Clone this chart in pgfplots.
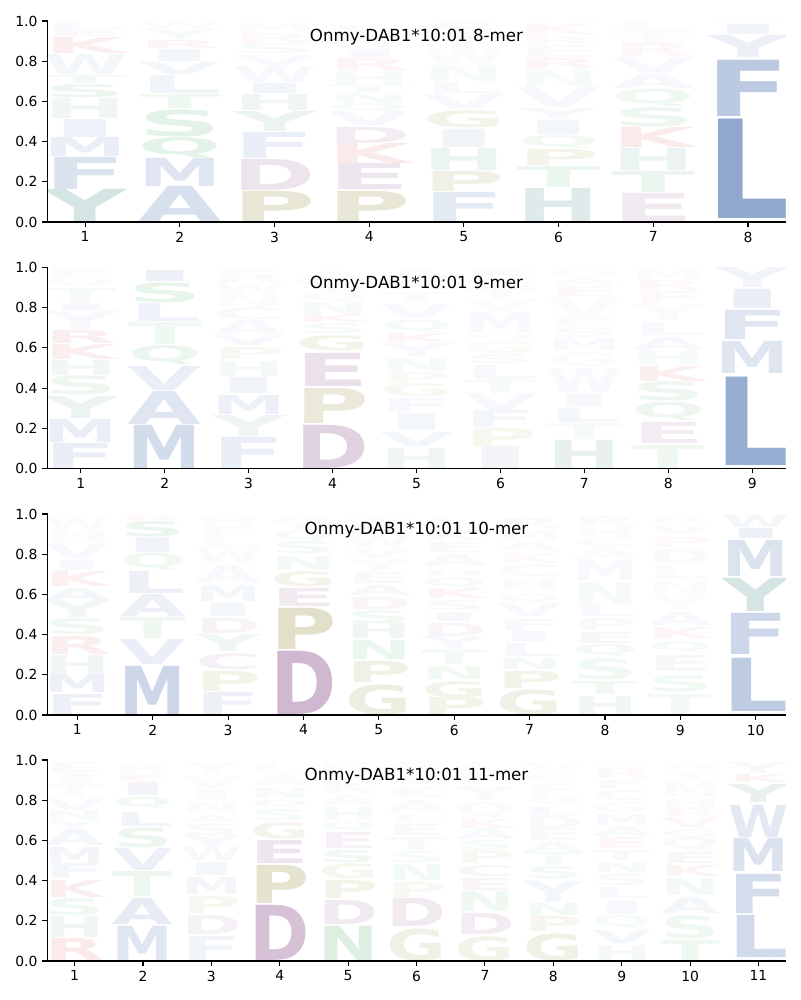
\documentclass[border=0pt]{standalone}
\usepackage{fontspec}
\setmainfont{DejaVu Sans}
\newfontfamily\logofont{DejaVu Sans}
\usepackage{graphicx}
\usepackage{pgfplots}
\usepackage{pgfplotstable}
\pgfplotsset{compat=1.18}
\definecolor{cB}{HTML}{4C72B0}
\definecolor{cT}{HTML}{3F8A82}
\definecolor{cG}{HTML}{3AA852}
\definecolor{cO}{HTML}{8A8530}
\definecolor{cP}{HTML}{894D89}
\definecolor{cR}{HTML}{D03030}
\def\logoparse#1:#2:#3\relax{\textcolor{#2!#3!white}{\logofont\bfseries #1}}

% x = position, y = bottom, h = height, m = letter:colour:strength(%)
\pgfplotstableread{
x y h m
1 0.00 0.16 Y:cT:22
1 0.16 0.16 F:cB:20
1 0.325 0.095 M:cB:12
1 0.42 0.09 I:cB:9
1 0.515 0.10 H:cT:8
1 0.62 0.065 S:cG:10
1 0.69 0.04 T:cG:6
1 0.735 0.10 W:cB:6
1 0.84 0.08 K:cR:8
1 0.925 0.035 E:cP:4
1 0.962 0.035 L:cB:4
2 0.00 0.175 A:cB:22
2 0.178 0.14 M:cB:18
2 0.32 0.10 Q:cG:14
2 0.425 0.135 S:cG:14
2 0.565 0.07 T:cG:8
2 0.64 0.09 L:cB:8
2 0.735 0.06 V:cB:6
2 0.80 0.06 I:cB:6
2 0.865 0.04 R:cR:5
2 0.91 0.05 Y:cT:4
2 0.965 0.03 W:cG:3
3 0.00 0.15 P:cO:20
3 0.155 0.155 D:cP:15
3 0.315 0.13 F:cB:12
3 0.45 0.10 Y:cT:10
3 0.555 0.08 H:cT:8
3 0.64 0.05 I:cB:8
3 0.695 0.08 W:cB:5
3 0.78 0.05 V:cB:4
3 0.835 0.05 S:cG:4
3 0.89 0.05 R:cR:3
3 0.945 0.045 M:cB:3
4 0.00 0.15 P:cO:20
4 0.16 0.13 E:cP:14
4 0.29 0.10 K:cR:10
4 0.39 0.08 D:cP:10
4 0.48 0.07 V:cB:5
4 0.55 0.04 Q:cG:5
4 0.59 0.05 N:cG:5
4 0.645 0.035 T:cG:4
4 0.68 0.07 H:cT:4
4 0.755 0.06 R:cR:5
4 0.82 0.04 I:cB:4
4 0.865 0.05 S:cG:3
4 0.92 0.06 L:cB:3
5 0.00 0.145 F:cB:15
5 0.15 0.10 P:cO:12
5 0.255 0.11 H:cT:10
5 0.37 0.09 I:cB:8
5 0.47 0.085 G:cO:10
5 0.56 0.075 V:cB:5
5 0.64 0.055 L:cB:4
5 0.70 0.08 N:cG:4
5 0.785 0.075 W:cB:3
5 0.865 0.06 T:cG:3
5 0.93 0.06 S:cG:3
6 0.00 0.165 H:cT:17
6 0.17 0.105 T:cG:10
6 0.28 0.08 P:cO:10
6 0.365 0.065 Q:cG:7
6 0.435 0.07 I:cB:6
6 0.51 0.055 Y:cB:5
6 0.57 0.10 V:cB:5
6 0.675 0.085 N:cG:4
6 0.765 0.05 R:cR:5
6 0.82 0.06 E:cP:3
6 0.885 0.04 R:cR:3
6 0.93 0.06 K:cR:3
7 0.00 0.14 E:cP:12
7 0.145 0.105 T:cG:10
7 0.255 0.11 H:cT:10
7 0.37 0.10 K:cR:10
7 0.475 0.095 S:cG:9
7 0.575 0.085 Q:cG:8
7 0.665 0.07 A:cB:5
7 0.74 0.08 V:cB:4
7 0.825 0.07 R:cR:4
7 0.90 0.05 T:cG:3
7 0.955 0.04 L:cB:3
8 0.00 0.01 W:cB:5
8 0.015 0.495 L:cB:62
8 0.525 0.28 F:cB:38
8 0.82 0.11 Y:cB:10
8 0.935 0.05 I:cB:8
8 0.99 0.01 V:cB:4
}\tabA

\pgfplotstableread{
x y h m
1 0.00 0.125 F:cB:12
1 0.128 0.115 M:cB:12
1 0.25 0.11 Y:cT:10
1 0.365 0.095 S:cG:9
1 0.465 0.075 H:cT:7
1 0.54 0.075 K:cR:8
1 0.62 0.065 R:cR:8
1 0.69 0.09 Y:cB:5
1 0.785 0.035 I:cB:5
1 0.825 0.07 T:cG:4
1 0.90 0.05 Q:cG:3
1 0.955 0.04 E:cR:3
2 0.00 0.215 M:cB:25
2 0.22 0.165 A:cB:18
2 0.39 0.12 V:cB:12
2 0.515 0.095 Q:cG:10
2 0.615 0.11 T:cG:8
2 0.73 0.09 L:cB:9
2 0.825 0.10 S:cG:12
2 0.93 0.055 I:cB:10
3 0.00 0.155 F:cB:12
3 0.16 0.105 Y:cT:9
3 0.27 0.095 M:cB:10
3 0.375 0.08 I:cB:8
3 0.46 0.075 H:cT:6
3 0.54 0.06 P:cO:6
3 0.61 0.05 V:cB:5
3 0.665 0.07 A:cB:4
3 0.74 0.06 C:cP:4
3 0.805 0.06 N:cG:3
3 0.87 0.05 W:cB:3
3 0.925 0.04 R:cR:3
3 0.965 0.03 F:cB:3
4 0.00 0.215 D:cP:25
4 0.225 0.175 P:cO:18
4 0.41 0.165 E:cP:17
4 0.585 0.075 G:cO:10
4 0.67 0.05 S:cG:5
4 0.725 0.04 K:cR:5
4 0.765 0.06 N:cG:4
4 0.83 0.04 Q:cG:3
4 0.875 0.05 T:cG:3
4 0.93 0.05 A:cB:3
5 0.00 0.10 H:cT:8
5 0.11 0.07 V:cB:6
5 0.19 0.085 I:cB:6
5 0.28 0.07 F:cB:5
5 0.355 0.065 G:cO:6
5 0.425 0.055 P:cO:5
5 0.485 0.065 N:cG:5
5 0.555 0.065 Y:cB:4
5 0.625 0.045 K:cR:5
5 0.675 0.06 Q:cG:4
5 0.745 0.07 V:cB:4
5 0.825 0.05 T:cG:3
5 0.885 0.05 R:cR:3
5 0.945 0.045 A:cB:3
6 0.00 0.11 I:cB:7
6 0.11 0.09 P:cO:7
6 0.205 0.085 F:cB:6
6 0.29 0.085 V:cB:5
6 0.38 0.06 T:cG:4
6 0.445 0.07 L:cB:5
6 0.52 0.045 S:cG:4
6 0.57 0.06 G:cO:4
6 0.635 0.035 Q:cO:3
6 0.675 0.10 M:cB:4
6 0.78 0.06 V:cG:3
6 0.845 0.05 T:cG:3
6 0.90 0.05 L:cB:3
6 0.955 0.035 K:cR:3
7 0.00 0.14 H:cT:12
7 0.145 0.08 T:cG:5
7 0.23 0.07 L:cB:6
7 0.305 0.07 I:cB:5
7 0.38 0.12 W:cB:4
7 0.505 0.07 G:cO:3
7 0.585 0.06 M:cB:4
7 0.65 0.05 S:cG:3
7 0.705 0.04 F:cB:3
7 0.75 0.10 V:cB:3
7 0.855 0.05 E:cR:3
7 0.91 0.04 A:cB:3
7 0.955 0.035 G:cO:2
8 0.00 0.115 T:cG:8
8 0.125 0.105 E:cP:10
8 0.24 0.09 Q:cG:9
8 0.335 0.095 S:cG:9
8 0.435 0.075 K:cR:8
8 0.515 0.065 H:cT:5
8 0.585 0.065 A:cB:5
8 0.66 0.065 L:cB:4
8 0.735 0.08 Y:cG:3
8 0.82 0.06 F:cR:3
8 0.885 0.05 R:cR:3
8 0.94 0.05 M:cB:3
9 0.00 0.01 W:cB:4
9 0.015 0.44 L:cB:58
9 0.475 0.16 M:cB:18
9 0.64 0.145 F:cB:18
9 0.795 0.095 I:cB:12
9 0.90 0.10 Y:cB:8
}\tabB

\pgfplotstableread{
x y h m
1 0.00 0.10 F:cB:10
1 0.11 0.09 M:cB:10
1 0.20 0.095 H:cT:8
1 0.30 0.09 R:cR:8
1 0.40 0.08 S:cG:8
1 0.485 0.085 Y:cT:7
1 0.57 0.06 A:cB:6
1 0.64 0.075 K:cR:7
1 0.72 0.05 I:cB:4
1 0.775 0.08 V:cB:4
1 0.86 0.06 H:cG:3
1 0.925 0.06 W:cB:3
2 0.00 0.24 M:cB:28
2 0.25 0.125 V:cB:12
2 0.38 0.105 T:cG:8
2 0.49 0.11 A:cB:10
2 0.605 0.11 L:cB:10
2 0.72 0.085 Q:cG:8
2 0.81 0.075 I:cB:8
2 0.885 0.075 S:cG:10
2 0.965 0.03 R:cR:3
3 0.00 0.11 F:cB:10
3 0.115 0.10 P:cO:10
3 0.225 0.08 C:cP:8
3 0.315 0.085 Y:cT:7
3 0.405 0.075 D:cP:7
3 0.49 0.065 I:cB:6
3 0.565 0.08 M:cB:6
3 0.655 0.09 A:cB:4
3 0.755 0.075 W:cB:3
3 0.835 0.05 L:cB:3
3 0.89 0.05 F:cB:3
3 0.945 0.045 H:cG:3
4 0.00 0.315 D:cP:40
4 0.325 0.205 P:cO:25
4 0.54 0.09 E:cP:12
4 0.64 0.075 G:cO:10
4 0.72 0.07 N:cG:6
4 0.80 0.06 S:cG:6
4 0.865 0.05 Q:cG:4
4 0.92 0.04 T:cG:3
4 0.965 0.03 A:cB:2
5 0.00 0.15 G:cO:15
5 0.16 0.105 P:cO:12
5 0.275 0.095 N:cG:10
5 0.38 0.075 H:cT:8
5 0.455 0.065 S:cG:7
5 0.525 0.06 D:cP:6
5 0.595 0.05 A:cB:5
5 0.655 0.055 E:cP:4
5 0.715 0.06 Y:cB:3
5 0.78 0.05 V:cB:3
5 0.835 0.06 W:cB:3
5 0.90 0.05 K:cR:3
5 0.955 0.04 T:cG:2
6 0.00 0.085 P:cO:10
6 0.085 0.08 G:cO:10
6 0.175 0.065 N:cG:7
6 0.25 0.07 T:cG:6
6 0.325 0.065 Y:cB:5
6 0.39 0.065 D:cP:6
6 0.465 0.045 I:cB:5
6 0.52 0.05 S:cG:4
6 0.58 0.05 K:cR:5
6 0.63 0.05 Q:cG:4
6 0.69 0.03 H:cT:3
6 0.74 0.06 A:cB:4
6 0.81 0.05 E:cP:3
6 0.87 0.05 K:cR:3
6 0.93 0.05 L:cB:2
7 0.00 0.125 G:cO:12
7 0.13 0.085 P:cO:10
7 0.225 0.055 N:cG:6
7 0.29 0.065 L:cB:5
7 0.365 0.05 I:cB:5
7 0.42 0.055 F:cB:4
7 0.49 0.065 V:cB:4
7 0.56 0.04 Q:cO:4
7 0.62 0.06 H:cG:3
7 0.69 0.06 C:cP:3
7 0.755 0.05 K:cR:3
7 0.815 0.05 A:cB:3
7 0.87 0.05 M:cB:3
7 0.93 0.05 R:cR:3
8 0.00 0.09 H:cT:8
8 0.10 0.065 T:cG:7
8 0.175 0.105 S:cG:7
8 0.29 0.06 Q:cG:6
8 0.355 0.055 E:cP:5
8 0.42 0.06 P:cO:5
8 0.49 0.055 L:cB:4
8 0.55 0.11 N:cG:4
8 0.67 0.10 M:cB:4
8 0.775 0.06 A:cB:3
8 0.84 0.04 C:cO:3
8 0.885 0.05 H:cB:3
8 0.94 0.05 R:cR:3
9 0.00 0.10 T:cG:6
9 0.115 0.08 S:cG:7
9 0.215 0.08 E:cP:5
9 0.315 0.05 Q:cG:5
9 0.38 0.055 K:cR:5
9 0.445 0.065 A:cB:4
9 0.52 0.075 Y:cB:3
9 0.60 0.065 N:cG:3
9 0.675 0.07 L:cB:3
9 0.755 0.07 D:cP:3
9 0.835 0.05 P:cR:3
9 0.895 0.05 V:cB:3
9 0.955 0.035 R:cR:2
10 0.00 0.01 W:cB:4
10 0.015 0.265 L:cB:36
10 0.30 0.205 F:cB:28
10 0.515 0.165 Y:cT:22
10 0.69 0.18 M:cB:20
10 0.88 0.05 I:cB:10
10 0.935 0.06 W:cB:6
}\tabC

\pgfplotstableread{
x y h m
1 0.00 0.11 R:cR:10
1 0.115 0.105 H:cT:8
1 0.225 0.085 S:cG:8
1 0.315 0.085 K:cR:8
1 0.41 0.075 F:cB:6
1 0.485 0.08 M:cB:7
1 0.575 0.08 A:cB:6
1 0.66 0.035 Y:cB:4
1 0.70 0.05 N:cG:4
1 0.75 0.055 V:cB:4
1 0.815 0.065 T:cG:3
1 0.885 0.05 I:cB:3
1 0.94 0.05 E:cR:3
2 0.00 0.17 M:cB:18
2 0.18 0.13 A:cB:14
2 0.32 0.125 T:cG:9
2 0.45 0.11 V:cB:10
2 0.565 0.10 S:cG:10
2 0.67 0.07 L:cB:8
2 0.76 0.055 Q:cG:7
2 0.825 0.065 I:cB:7
2 0.895 0.035 E:cR:4
2 0.935 0.05 R:cB:3
3 0.00 0.12 F:cB:8
3 0.13 0.095 D:cP:8
3 0.235 0.085 P:cO:7
3 0.33 0.085 M:cB:7
3 0.425 0.065 I:cB:6
3 0.50 0.065 W:cB:5
3 0.565 0.06 Y:cB:4
3 0.625 0.06 S:cG:4
3 0.69 0.035 A:cB:3
3 0.74 0.05 N:cB:3
3 0.80 0.05 I:cB:3
3 0.86 0.06 V:cB:3
3 0.93 0.06 Y:cB:2
4 0.00 0.275 D:cP:35
4 0.285 0.19 P:cO:22
4 0.485 0.115 E:cP:14
4 0.61 0.08 G:cO:9
4 0.70 0.055 S:cG:5
4 0.765 0.035 Q:cG:4
4 0.81 0.05 N:cG:4
4 0.87 0.06 A:cB:3
4 0.935 0.05 L:cB:2
5 0.00 0.17 N:cG:18
5 0.18 0.12 D:cP:12
5 0.31 0.09 P:cO:10
5 0.41 0.075 G:cO:8
5 0.49 0.06 S:cG:8
5 0.56 0.08 E:cP:8
5 0.645 0.045 Q:cG:5
5 0.70 0.065 H:cT:4
5 0.775 0.05 A:cB:3
5 0.835 0.06 K:cB:3
5 0.905 0.05 V:cB:3
5 0.96 0.03 R:cR:2
6 0.00 0.16 G:cO:12
6 0.17 0.14 D:cP:12
6 0.315 0.075 P:cO:6
6 0.40 0.08 N:cG:6
6 0.49 0.055 S:cG:5
6 0.55 0.065 T:cG:4
6 0.625 0.055 E:cP:4
6 0.69 0.04 L:cB:3
6 0.74 0.06 A:cB:3
6 0.81 0.06 K:cB:3
6 0.88 0.05 I:cB:2
6 0.94 0.05 R:cR:2
7 0.00 0.12 G:cO:10
7 0.13 0.105 D:cP:10
7 0.245 0.10 N:cG:8
7 0.35 0.06 E:cP:6
7 0.42 0.055 C:cP:6
7 0.485 0.065 P:cO:6
7 0.555 0.045 S:cG:5
7 0.605 0.055 A:cB:4
7 0.66 0.045 K:cR:4
7 0.71 0.08 Q:cG:3
7 0.80 0.07 Y:cT:3
7 0.88 0.05 F:cB:2
7 0.94 0.05 L:cB:2
8 0.00 0.135 G:cO:12
8 0.145 0.075 P:cO:8
8 0.225 0.06 N:cG:6
8 0.29 0.105 Y:cB:6
8 0.41 0.06 S:cG:6
8 0.475 0.065 T:cG:5
8 0.54 0.05 A:cB:4
8 0.60 0.06 E:cP:4
8 0.66 0.06 D:cP:4
8 0.725 0.04 L:cB:4
8 0.775 0.04 Q:cG:3
8 0.82 0.06 F:cB:3
8 0.885 0.05 C:cG:2
8 0.94 0.05 V:cB:2
9 0.00 0.075 H:cT:6
9 0.085 0.065 V:cB:6
9 0.16 0.065 Q:cG:5
9 0.23 0.065 I:cB:5
9 0.31 0.055 L:cB:4
9 0.375 0.06 S:cG:4
9 0.44 0.05 N:cG:4
9 0.50 0.05 T:cG:4
9 0.56 0.055 E:cR:4
9 0.62 0.05 A:cB:4
9 0.675 0.055 M:cB:4
9 0.74 0.05 G:cO:3
9 0.80 0.05 C:cR:3
9 0.86 0.04 F:cR:3
9 0.91 0.05 R:cR:3
9 0.965 0.03 W:cB:2
10 0.00 0.10 T:cG:8
10 0.11 0.115 S:cG:8
10 0.235 0.08 A:cB:6
10 0.325 0.085 N:cG:6
10 0.42 0.055 K:cR:6
10 0.485 0.055 E:cP:5
10 0.55 0.065 Q:cG:4
10 0.615 0.04 G:cO:4
10 0.665 0.05 V:cR:4
10 0.72 0.04 R:cR:3
10 0.765 0.04 H:cT:3
10 0.82 0.07 M:cB:3
10 0.90 0.05 Y:cB:2
10 0.955 0.035 W:cB:2
11 0.00 0.01 W:cB:4
11 0.015 0.21 L:cB:26
11 0.235 0.195 F:cB:24
11 0.445 0.165 M:cB:20
11 0.615 0.16 W:cB:16
11 0.79 0.09 Y:cT:12
11 0.89 0.04 K:cR:6
11 0.935 0.055 Y:cB:5
}\tabD

\pgfplotsset{
  panel/.style={
    scale only axis, width=531.8pt, height=144.72pt, anchor=south west,
    xmin=0.6, xmax=#1+0.4, ymin=0, ymax=1,
    xtick={1,...,#1}, ytick={0,0.2,0.4,0.6,0.8,1},
    axis x line*=bottom, axis y line*=left,
    axis on top,
    axis line style={line width=0.8pt, black, -},
    tick align=outside, major tick length=3.5pt,
    tick style={line width=0.8pt, black},
    ticklabel style={font=\fontsize{10}{12}\selectfont},
    /pgf/number format/assume math mode=true,
    yticklabel style={/pgf/number format/.cd, fixed, fixed zerofill, precision=1},
    every axis title shift=0pt,
    title style={at={(0.5,0.92)}, anchor=center, font=\fontsize{12}{14}\selectfont},
    clip=true, clip marker paths=true,
    after end axis/.code={
      \draw[line width=0.8pt, black, line cap=rect] (rel axis cs:0,1) -- (rel axis cs:0,0) -- (rel axis cs:1,0);
    },
  },
  logo/.style={
    only marks, mark=none,
    point meta=explicit symbolic,
    visualization depends on={\thisrow{h}*144.72\as\lh},
    nodes near coords={\resizebox*{#1}{\lh pt}{\expandafter\logoparse\pgfplotspointmeta\relax}},
    every node near coord/.style={anchor=south west, inner sep=0pt, outer sep=0pt, xshift={-0.0568*#1}},
  },
}

\begin{document}
\begin{tikzpicture}
\useasboundingbox (0,0) rectangle (576pt,720pt);
\begin{axis}[panel=8, at={(34pt,560.16pt)}, title={Onmy-DAB1*10:01 8-mer}]
\addplot[logo=60.0pt] table[x expr=\thisrow{x}-0.39, y=y, meta=m] {\tabA};
\end{axis}
\begin{axis}[panel=9, at={(34pt,382.68pt)}, title={Onmy-DAB1*10:01 9-mer}]
\addplot[logo=53.18pt] table[x expr=\thisrow{x}-0.39, y=y, meta=m] {\tabB};
\end{axis}
\begin{axis}[panel=10, at={(34pt,205.2pt)}, title={Onmy-DAB1*10:01 10-mer}]
\addplot[logo=47.75pt] table[x expr=\thisrow{x}-0.39, y=y, meta=m] {\tabC};
\end{axis}
\begin{axis}[panel=11, at={(34pt,28.08pt)}, title={Onmy-DAB1*10:01 11-mer}]
\addplot[logo=43.33pt] table[x expr=\thisrow{x}-0.39, y=y, meta=m] {\tabD};
\end{axis}
\end{tikzpicture}
\end{document}
